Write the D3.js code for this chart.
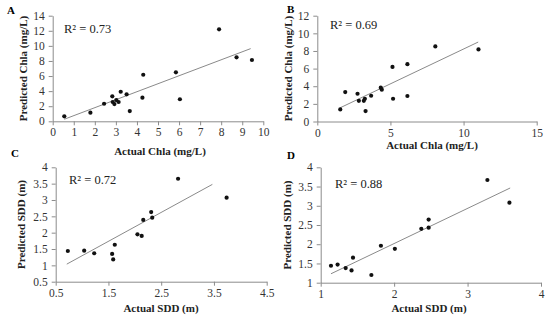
<!DOCTYPE html>
<html>
<head>
<meta charset="utf-8">
<script src="https://cdn.jsdelivr.net/npm/d3@7/dist/d3.min.js"></script>
<style>
  body { margin: 0; background: #fff; }
  svg { display: block; font-family: "Liberation Serif", "Times New Roman", serif; }
  .tick text { font-size: 11.5px; fill: #333; font-family: "Liberation Serif", "Times New Roman", serif; }
  .domain, .tick line { stroke: #8c8c8c; }
</style>
</head>
<body>
<div id="container"></div>
<script>
// ---------------- data ----------------
const chlaActualA = [0.55, 1.79, 2.44, 2.83, 2.85, 2.93, 3.02, 3.13, 3.23, 3.51, 3.66, 4.26, 4.30, 5.85, 6.04, 7.9, 8.73, 9.46];
const chlaPredA   = [0.66, 1.14, 2.33, 3.31, 2.56, 2.29, 2.82, 2.56, 3.92, 3.57, 1.36, 3.13, 6.17, 6.49, 2.92, 12.19, 8.48, 8.13];
const chlaActualB = [1.57, 1.91, 2.75, 2.84, 3.18, 3.25, 3.3, 3.68, 4.34, 4.41, 5.14, 5.18, 6.16, 6.16, 8.07, 11.02];
const chlaPredB   = [1.37, 3.34, 3.15, 2.35, 2.35, 2.58, 1.18, 2.92, 3.84, 3.61, 6.19, 2.58, 6.5, 2.89, 8.51, 8.17];
const sddActualC  = [0.73, 1.04, 1.23, 1.57, 1.59, 1.62, 2.05, 2.13, 2.16, 2.31, 2.33, 2.82, 3.74];
const sddPredC    = [1.44, 1.45, 1.37, 1.35, 1.18, 1.63, 1.95, 1.90, 2.39, 2.63, 2.46, 3.65, 3.07];
const sddActualD  = [1.14, 1.23, 1.34, 1.42, 1.44, 1.69, 1.82, 2.01, 2.37, 2.47, 2.47, 3.27, 3.57];
const sddPredD    = [1.44, 1.47, 1.38, 1.32, 1.65, 1.2, 1.96, 1.88, 2.40, 2.64, 2.43, 3.67, 3.08];

// trend lines: [x start, x end, slope, intercept]
const trendA = [0.55, 9.4, 1.058, -0.31];
const trendB = [1.57, 11.0, 0.79, 0.32];
const trendC = [0.71, 3.47, 0.884, 0.41];
const trendD = [1.14, 3.58, 0.914, 0.19];

const r2Labels = ['R² = 0.73', 'R² = 0.69', 'R² = 0.72', 'R² = 0.88'];
const panelLetters = ['A', 'B', 'C', 'D'];

const ticksA = d3.range(0, 15, 2);
const ticksAx = d3.range(0, 11, 1);
const ticksB = d3.range(0, 13, 2);
const ticksBx = [0, 5, 10, 15];
const ticksC = [0.5, 1, 1.5, 2, 2.5, 3, 3.5, 4];
const ticksCx = [0.5, 1.5, 2.5, 3.5, 4.5];
const ticksD = [1, 1.5, 2, 2.5, 3, 3.5, 4];
const ticksDx = [1, 2, 3, 4];

// ---------------- svg ----------------
const svg = d3.select('#container').append('svg')
    .attr('width', 550)
    .attr('height', 320);

const panels = [
  { xs: chlaActualA, ys: chlaPredA, trend: trendA, xd: [0, 10], yd: [0, 14], xt: ticksAx, yt: ticksA,
    box: [52.7, 263.3, 15.7, 121.3], xlab: 'Actual Chla (mg/L)', ylab: 'Predicted Chla (mg/L)',
    xlabPos: [160, 155], ylabX: 27, letter: [7, 14], r2: [64, 33] },
  { xs: chlaActualB, ys: chlaPredB, trend: trendB, xd: [0, 15], yd: [0, 12], xt: ticksBx, yt: ticksB,
    box: [317.3, 536.7, 15.7, 121.5], xlab: 'Actual Chla (mg/L)', ylab: 'Predicted Chla (mg/L)',
    xlabPos: [432, 149], ylabX: 292, letter: [287, 13], r2: [330, 29] },
  { xs: sddActualC, ys: sddPredC, trend: trendC, xd: [0.5, 4.5], yd: [0.5, 4], xt: ticksCx, yt: ticksC,
    box: [55.7, 266.7, 167.3, 281.7], xlab: 'Actual SDD (m)', ylab: 'Predicted SDD (m)',
    xlabPos: [161, 312], ylabX: 25, letter: [11, 157], r2: [69, 184] },
  { xs: sddActualD, ys: sddPredD, trend: trendD, xd: [1, 4], yd: [1, 4], xt: ticksDx, yt: ticksD,
    box: [320.7, 541, 167.3, 282.7], xlab: 'Actual SDD (m)', ylab: 'Predicted SDD (m)',
    xlabPos: [429, 312], ylabX: 291, letter: [287, 159], r2: [335, 188] }
];

panels.forEach((p, i) => {
  const [l, r, t, b] = p.box;
  const x = d3.scaleLinear().domain(p.xd).range([l, r]);
  const y = d3.scaleLinear().domain(p.yd).range([b, t]);

  const g = svg.append('g');

  g.append('g')
    .attr('transform', `translate(0,${b})`)
    .call(d3.axisBottom(x).tickValues(p.xt).tickSize(4).tickSizeOuter(0).tickPadding(3).tickFormat(d3.format('')));
  g.append('g')
    .attr('transform', `translate(${l},0)`)
    .call(d3.axisLeft(y).tickValues(p.yt).tickSize(4).tickSizeOuter(0).tickPadding(4).tickFormat(d3.format('')));

  // trend line
  const [x0, x1, m, c] = p.trend;
  g.append('line')
    .attr('x1', x(x0)).attr('y1', y(m * x0 + c))
    .attr('x2', x(x1)).attr('y2', y(m * x1 + c))
    .attr('stroke', '#8a8a8a')
    .attr('stroke-width', 1);

  // points
  g.selectAll('circle')
    .data(p.xs.map((v, k) => [v, p.ys[k]]))
    .enter()
    .append('circle')
    .attr('cx', d => x(d[0]))
    .attr('cy', d => y(d[1]))
    .attr('r', 2.1)
    .attr('fill', '#111');

  g.append('text')
    .attr('x', p.xlabPos[0]).attr('y', p.xlabPos[1])
    .attr('text-anchor', 'middle')
    .attr('font-size', 11).attr('font-weight', 'bold')
    .attr('fill', '#222')
    .text(p.xlab);

  g.append('text')
    .attr('transform', `translate(${p.ylabX},${(t + b) / 2}) rotate(-90)`)
    .attr('text-anchor', 'middle')
    .attr('font-size', 11).attr('font-weight', 'bold')
    .attr('fill', '#222')
    .text(p.ylab);

  g.append('text')
    .attr('x', p.r2[0]).attr('y', p.r2[1])
    .attr('font-size', 12.5)
    .attr('fill', '#222')
    .text(r2Labels[i]);

  g.append('text')
    .attr('x', p.letter[0]).attr('y', p.letter[1])
    .attr('font-size', 11).attr('font-weight', 'bold')
    .text(panelLetters[i]);
});
</script>
</body>
</html>
